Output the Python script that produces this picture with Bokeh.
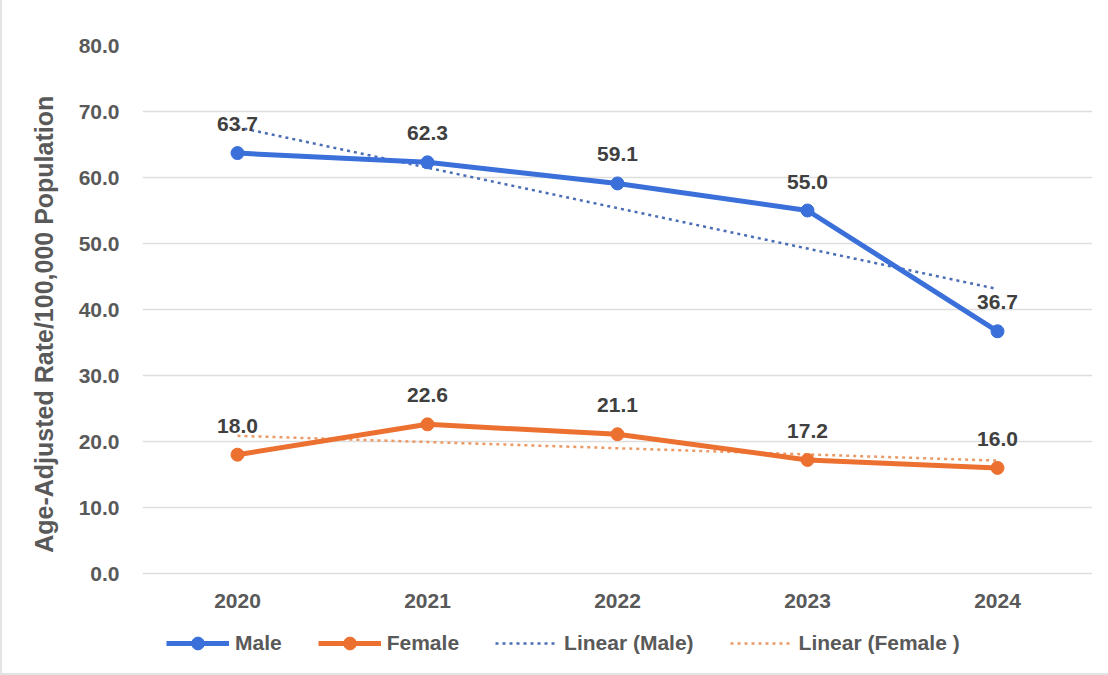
import numpy as np
from bokeh.plotting import figure
from bokeh.models import (ColumnDataSource, LabelSet, Legend, LegendItem, FixedTicker,
                          NumeralTickFormatter, Range1d)
from bokeh.core.properties import value
from bokeh.embed import file_html
from bokeh.resources import INLINE

years = [2020, 2021, 2022, 2023, 2024]
year_labels = ["2020", "2021", "2022", "2023", "2024"]
male = [63.7, 62.3, 59.1, 55.0, 36.7]
female = [18.0, 22.6, 21.1, 17.2, 16.0]
y_ticks = [0, 10, 20, 30, 40, 50, 60, 70, 80]

MALE_C = "#3b6fd9"
FEMALE_C = "#ec7030"
MALE_T = "#4a6db5"
FEMALE_T = "#eb9a66"
TXT = "#595959"
FONT = "Liberation Sans"

x = np.array(years, dtype=float)
m_fit = np.polyval(np.polyfit(x, male, 1), x)
f_fit = np.polyval(np.polyfit(x, female, 1), x)

src = ColumnDataSource(dict(
    x=years, male=male, female=female,
    male_lbl=[f"{v:.1f}" for v in male],
    female_lbl=[f"{v:.1f}" for v in female],
    m_fit=m_fit, f_fit=f_fit,
    base=[0] * len(years), year_lbl=year_labels,
))

# frame: top 45px, bottom 665px; 0..80 spans 528px -> y start below zero leaves room for legend
TOP, BOTTOM_BORDER = 45, 10
frame_h = 675 - TOP - BOTTOM_BORDER
y_start = 80 - frame_h * 80 / 528

p = figure(width=1108, height=675, output_backend="svg", toolbar_location=None,
           x_range=Range1d(2019.5, 2024.5), y_range=Range1d(y_start, 80),
           min_border_left=140, min_border_right=18, min_border_top=TOP,
           min_border_bottom=BOTTOM_BORDER)
p.outline_line_color = None
p.background_fill_color = "white"
p.border_fill_color = "white"
p.xaxis.visible = False

p.xgrid.grid_line_color = None
p.ygrid.grid_line_color = "#dedede"
p.ygrid.grid_line_width = 1.5
p.ygrid.ticker = FixedTicker(ticks=y_ticks)

p.yaxis.ticker = FixedTicker(ticks=y_ticks)
p.yaxis.formatter = NumeralTickFormatter(format="0.0")
ax = p.yaxis[0]
ax.axis_line_color = None
ax.major_tick_line_color = None
ax.minor_tick_line_color = None
ax.major_label_text_font = FONT
ax.major_label_text_font_style = "bold"
ax.major_label_text_font_size = "21px"
ax.major_label_text_color = TXT
ax.major_label_standoff = 17
ax.axis_label = "\u00a0" * 9 + "Age-Adjusted Rate/100,000 Population"
ax.axis_label_text_font = FONT
ax.axis_label_text_font_style = "bold"
ax.axis_label_text_font_size = "25px"
ax.axis_label_text_color = TXT
ax.axis_label_standoff = 18

# x category labels drawn at the zero line
p.text(x="x", y="base", text="year_lbl", source=src, y_offset=27,
       text_align="center", text_baseline="middle",
       text_font=value(FONT), text_font_style="bold", text_font_size="21px",
       text_color=TXT)

r_mt = p.line("x", "m_fit", source=src, line_color=MALE_T, line_width=2.5, line_dash="3 4")
r_ft = p.line("x", "f_fit", source=src, line_color=FEMALE_T, line_width=2.5, line_dash="3 4")
r_ml = p.line("x", "male", source=src, line_color=MALE_C, line_width=5)
r_ms = p.scatter("x", "male", source=src, size=13, fill_color=MALE_C, line_color=MALE_C)
r_fl = p.line("x", "female", source=src, line_color=FEMALE_C, line_width=5)
r_fs = p.scatter("x", "female", source=src, size=13, fill_color=FEMALE_C, line_color=FEMALE_C)

for col, ycol in (("male_lbl", "male"), ("female_lbl", "female")):
    p.add_layout(LabelSet(x="x", y=ycol, text=col, source=src, y_offset=29,
                          text_align="center", text_baseline="middle",
                          text_font=value(FONT), text_font_style="bold",
                          text_font_size="21px", text_color="#404040"))

legend = Legend(items=[
    LegendItem(label="Male", renderers=[r_ml, r_ms]),
    LegendItem(label="Female", renderers=[r_fl, r_fs]),
    LegendItem(label="Linear (Male)", renderers=[r_mt]),
    LegendItem(label="Linear (Female )", renderers=[r_ft]),
], orientation="horizontal", location=(24, 6))
legend.border_line_color = None
legend.background_fill_alpha = 0
legend.label_text_font = FONT
legend.label_text_font_style = "bold"
legend.label_text_font_size = "21px"
legend.label_text_color = TXT
legend.glyph_width = 63
legend.glyph_height = 32
legend.label_standoff = 6
legend.spacing = 36
legend.padding = 0
legend.margin = 0
p.add_layout(legend, "center")

p.styles = {"border-left": "2px solid #e3e3e3",
            "border-bottom": "2px solid #e3e3e3", "box-sizing": "border-box"}

open("out.html", "w").write(file_html(p, INLINE))
